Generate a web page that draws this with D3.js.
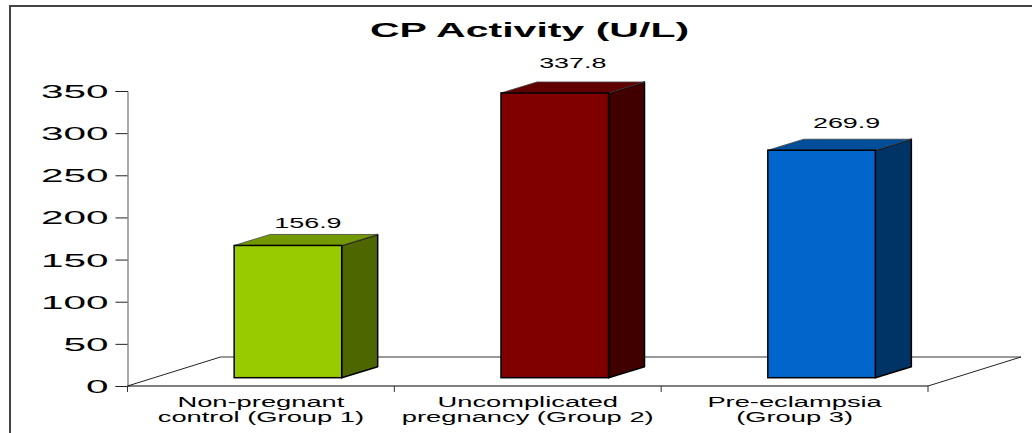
<!DOCTYPE html>
<html>
<head>
<meta charset="utf-8">
<script src="https://cdn.jsdelivr.net/npm/d3@7/dist/d3.min.js"></script>
<style>
html, body { margin: 0; padding: 0; background: #fff; }
svg { display: block; }
text { font-family: "Liberation Sans", Arial, sans-serif; fill: #000; }
</style>
</head>
<body>
<script>
var categories = ['Non-pregnant control (Group 1)', 'Uncomplicated pregnancy (Group 2)', 'Pre-eclampsia (Group 3)'];
var categoryLines = [['Non-pregnant', 'control (Group 1)'], ['Uncomplicated', 'pregnancy (Group 2)'], ['Pre-eclampsia', '(Group 3)']];
var values = [156.9, 337.8, 269.9];
var valueLabels = ['156.9', '337.8', '269.9'];
var frontColors = ['#99cc00', '#800000', '#0066cc'];
var topColors = ['#739900', '#600000', '#004d99'];
var sideColors = ['#4d6600', '#400000', '#003366'];
var yTicks = [0, 50, 100, 150, 200, 250, 300, 350];
var title = 'CP Activity (U/L)';

var width = 1032;
var height = 433;

var depthX = 36;
var depthY = 11;
var floorX = 93;
var floorY = 29;
var barLift = 8.3;
var barShift = 27;
var labelShift = [20, 18, 25];

var svg = d3.select('body').append('svg')
    .attr('width', width)
    .attr('height', height);

var x = d3.scaleBand()
    .domain(categories)
    .range([127.5, 928])
    .paddingInner(0.597)
    .paddingOuter(0.2985);

var y = d3.scaleLinear()
    .domain([0, 350])
    .range([386, 91]);

// value labels climb a bit faster than the bars do
var yLabel = d3.scaleLinear()
    .domain([0, 350])
    .range([366.7, 57.3]);

// outer frame, only top and left are in the picture
svg.append('path')
    .attr('d', 'M10,' + height + 'V6H' + width)
    .attr('fill', 'none')
    .attr('stroke', '#444')
    .attr('stroke-width', 2);

// stretched text, the source image was widened
function wideText(g, px, py, size, sx, str, weight) {
    return g.append('text')
        .attr('transform', 'translate(' + px + ',' + py + ') scale(' + sx + ',1)')
        .attr('text-anchor', 'middle')
        .attr('font-size', size)
        .attr('font-weight', weight || 'normal')
        .text(str);
}

wideText(svg, 529.5, 37, 21, 1.955, title, 'bold');

// floor
var y0 = y(0);
var xLeft = x.range()[0];
var xRight = x.range()[1];
svg.append('line')
    .attr('x1', xLeft + floorX).attr('x2', xRight + floorX)
    .attr('y1', y0 - floorY).attr('y2', y0 - floorY)
    .attr('stroke', '#777')
    .attr('stroke-width', 1.3);
svg.append('path')
    .attr('d', 'M' + xLeft + ',' + y0 + 'l' + floorX + ',' + (-floorY) + 'M' + xRight + ',' + y0 + 'l' + floorX + ',' + (-floorY))
    .attr('fill', 'none')
    .attr('stroke', '#222')
    .attr('stroke-width', 1);

// y axis
var yAxis = d3.axisLeft(y)
    .tickValues(yTicks)
    .tickSize(12)
    .tickPadding(7)
    .tickFormat(d3.format('d'));

var yG = svg.append('g')
    .attr('transform', 'translate(127.5,0)')
    .call(yAxis);
yG.select('.domain').attr('stroke', '#555');
yG.selectAll('.tick line').attr('stroke', '#222');
yG.selectAll('.tick text')
    .attr('font-size', 18)
    .attr('font-family', '"Liberation Sans", Arial, sans-serif')
    .attr('dy', '0.36em')
    .attr('transform', 'translate(-19,0) scale(2.25,1)')
    .attr('x', 0);

// x axis, ticks at the band edges
var step = x.step();
var xEdges = d3.range(categories.length + 1).map(function (i) { return xLeft + i * step; });
svg.append('line')
    .attr('x1', xLeft).attr('x2', xRight)
    .attr('y1', y0).attr('y2', y0)
    .attr('stroke', '#000')
    .attr('stroke-width', 1.2);
svg.selectAll('.xtick')
    .data(xEdges)
    .enter().append('line')
    .attr('class', 'xtick')
    .attr('x1', function (d) { return d; })
    .attr('x2', function (d) { return d; })
    .attr('y1', y0)
    .attr('y2', y0 + 6)
    .attr('stroke', '#333');

// bars
var bars = svg.selectAll('.bar')
    .data(categories)
    .enter().append('g')
    .attr('class', 'bar');

var bw = x.bandwidth();
var baseY = y0 - barLift;

function barLeft(d) { return x(d) + barShift; }
function barTop(d, i) { return y(values[i]) - barLift; }

bars.append('path')
    .attr('d', function (d, i) {
        var l = barLeft(d), t = barTop(d, i);
        return 'M' + (l + bw) + ',' + t + 'l' + depthX + ',' + (-depthY) + 'V' + (baseY - depthY) + 'L' + (l + bw) + ',' + baseY + 'Z';
    })
    .attr('fill', function (d, i) { return sideColors[i]; })
    .attr('stroke', '#000')
    .attr('stroke-width', 1.5)
    .attr('stroke-linejoin', 'round');

bars.append('path')
    .attr('d', function (d, i) {
        var l = barLeft(d), t = barTop(d, i);
        return 'M' + l + ',' + t + 'l' + depthX + ',' + (-depthY) + 'h' + bw + 'l' + (-depthX) + ',' + depthY + 'Z';
    })
    .attr('fill', function (d, i) { return topColors[i]; })
    .attr('stroke', '#444')
    .attr('stroke-width', 0.8)
    .attr('stroke-linejoin', 'round');

bars.append('rect')
    .attr('x', barLeft)
    .attr('y', barTop)
    .attr('width', bw)
    .attr('height', function (d, i) { return baseY - barTop(d, i); })
    .attr('fill', function (d, i) { return frontColors[i]; })
    .attr('stroke', '#000')
    .attr('stroke-width', 1.5);

// value labels
categories.forEach(function (c, i) {
    wideText(svg, barLeft(c) + bw / 2 + labelShift[i], yLabel(values[i]), 14, 1.92, valueLabels[i]);
});

// category labels
categoryLines.forEach(function (lines, i) {
    var cx = x(categories[i]) + bw / 2;
    lines.forEach(function (line, j) {
        wideText(svg, cx, 407 + j * 14.7, 14, 1.95, line);
    });
});
</script>
</body>
</html>
